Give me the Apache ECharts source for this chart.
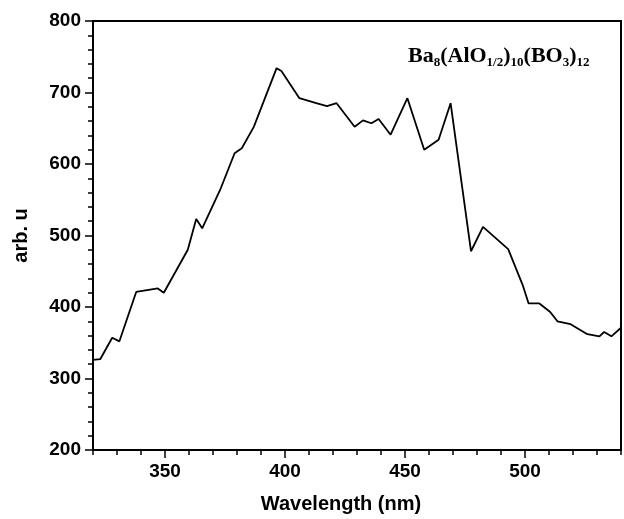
<!DOCTYPE html>
<html>
<head>
<meta charset="utf-8">
<script src="https://cdn.jsdelivr.net/npm/echarts@6/dist/echarts.min.js"></script>
<style>
  html, body { margin: 0; padding: 0; background: #fff; }
  #main { width: 624px; height: 519px; }
</style>
</head>
<body>
<div id="main"></div>
<script>
// spectrum
var wavelength = [320, 323, 328, 331, 338, 347, 349.5, 359.5, 363, 365.5, 373, 379, 382, 387,
    396.5, 398.5, 406, 413, 417.5, 421.5, 429, 432.5, 436, 439, 444, 451,
    458, 464, 469, 477.5, 482.5, 493, 499, 501.5, 506, 510.5, 513.5, 519,
    526, 531, 533, 536, 540];
var intensity = [326, 327, 357, 352, 421, 426, 420, 480, 523, 510, 564, 615, 622, 652,
    734, 730, 692, 685, 681, 685, 652, 661, 657, 663, 641, 692,
    620, 634, 685, 478, 512, 481, 431, 405, 405, 393, 380, 376,
    362, 359, 365, 359, 371];

var xTicks = [350, 400, 450, 500];

var chart = echarts.init(document.getElementById('main'));

var labelFont = {
    color: '#000',
    fontFamily: 'Liberation Sans, Arial, sans-serif',
    fontWeight: 'bold',
    fontSize: 19
};
var lineStyle = { color: '#000', width: 2 };
var tickStyle = { color: '#000', width: 1.5 };

var option = {
    backgroundColor: '#fff',
    animation: false,
    title: {
        left: 403,
        top: 40,
        text: '{m|Ba}{s|8}{m|(AlO}{s|1/2}{m|)}{s|10}{m|(BO}{s|3}{m|)}{s|12}',
        textStyle: {
            rich: {
                m: { fontFamily: 'Liberation Serif, Times New Roman, serif', fontWeight: 'bold',
                     fontSize: 22, color: '#000', verticalAlign: 'top', lineHeight: 24 },
                s: { fontFamily: 'Liberation Serif, Times New Roman, serif', fontWeight: 'bold',
                     fontSize: 13, color: '#000', verticalAlign: 'bottom', lineHeight: 16, padding: [15, 0, 0, 0] }
            }
        }
    },
    grid: { left: 93, right: 3, top: 21, bottom: 69, containLabel: false },
    xAxis: [{
        // minor ticks every 10 nm, labels only at the round values
        type: 'value',
        min: 320,
        max: 540,
        interval: 10,
        name: 'Wavelength (nm)',
        nameLocation: 'middle',
        nameGap: 44,
        nameTextStyle: Object.assign({}, labelFont, { fontSize: 20, padding: [0, 32, 0, 0] }),
        axisLine: { lineStyle: lineStyle },
        axisTick: { show: true, length: 5, lineStyle: tickStyle },
        axisLabel: Object.assign({}, labelFont, {
            margin: 12,
            formatter: function (v) { return xTicks.indexOf(v) >= 0 ? String(v) : ''; }
        }),
        splitLine: { show: false }
    }, {
        // longer major ticks
        type: 'value',
        position: 'bottom',
        min: 320,
        max: 540,
        axisLine: { show: false },
        axisTick: { show: true, length: 8, customValues: xTicks, lineStyle: tickStyle },
        axisLabel: { show: false },
        splitLine: { show: false }
    }, {
        type: 'value',
        position: 'top',
        min: 320,
        max: 540,
        axisLine: { show: true, lineStyle: lineStyle },
        axisTick: { show: false },
        axisLabel: { show: false },
        splitLine: { show: false }
    }],
    yAxis: [{
        type: 'value',
        min: 200,
        max: 800,
        interval: 100,
        name: 'arb. u',
        nameLocation: 'middle',
        nameGap: 62,
        nameTextStyle: Object.assign({}, labelFont, { fontSize: 20 }),
        axisLine: { lineStyle: lineStyle },
        axisTick: { show: true, length: 8, lineStyle: tickStyle },
        minorTick: { show: true, splitNumber: 5, length: 5, lineStyle: tickStyle },
        axisLabel: Object.assign({}, labelFont, { margin: 12 }),
        splitLine: { show: false }
    }, {
        type: 'value',
        position: 'right',
        min: 200,
        max: 800,
        axisLine: { show: true, lineStyle: lineStyle },
        axisTick: { show: false },
        axisLabel: { show: false },
        splitLine: { show: false }
    }],
    series: [{
        type: 'line',
        showSymbol: false,
        symbol: 'none',
        lineStyle: { color: '#000', width: 1.8 },
        data: wavelength.map(function (w, i) { return [w, intensity[i]]; })
    }]
};

chart.setOption(option);
</script>
</body>
</html>
